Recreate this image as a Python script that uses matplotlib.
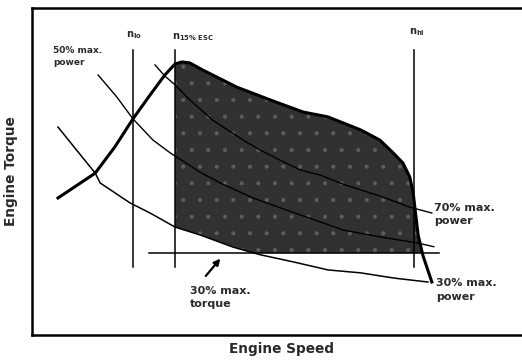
import numpy as np
import matplotlib
matplotlib.use("Agg")
import matplotlib.pyplot as plt

# engine speed / torque in relative units (0..100)
full_load_speed = [5.3, 10.2, 12.9, 16.9, 20.6, 24.1, 27.1, 29.2, 30.6, 32.2, 34.9, 41.8,
                   48.6, 55.3, 60.4, 67.1, 71.0, 73.7, 75.7, 77.1, 77.8, 78.2, 78.8, 79.8, 81.6]
full_load_torque = [41.9, 46.8, 49.5, 57.5, 66.1, 73.4, 79.5, 82.9, 83.5, 83.2, 81.0, 75.8,
                    71.9, 68.2, 66.7, 62.7, 59.6, 55.7, 52.6, 48.3, 43.4, 38.2, 30.6, 24.2, 16.2]

p70_speed = [25.1, 27.1, 29.2, 32.2, 36.9, 43.1, 46.5, 50.6, 54.7, 58.8, 63.9, 71.0, 77.1, 81.6]
p70_torque = [82.6, 79.2, 76.5, 71.9, 65.7, 59.6, 56.6, 53.5, 50.5, 48.9, 45.9, 42.5, 39.1, 37.3]

p50_speed = [13.5, 17.3, 20.6, 24.7, 28.2, 34.3, 38.4, 45.1, 52.0, 58.8, 63.5, 71.0, 78.8, 82.0]
p50_torque = [79.5, 72.8, 66.1, 59.6, 55.7, 49.8, 46.5, 41.9, 38.2, 34.6, 32.1, 30.0, 28.1, 27.0]

p30_speed = [5.3, 12.9, 13.9, 20.0, 24.1, 29.2, 34.3, 41.0, 44.5, 46.7, 53.5, 60.4, 67.1, 73.9, 80.8]
p30_torque = [63.6, 49.5, 46.5, 40.4, 37.3, 33.0, 30.6, 26.9, 25.4, 24.5, 22.3, 19.9, 19.0, 17.4, 16.2]

n_lo, n_15, n_hi = 20.6, 29.2, 78.0
n_line_range = (20.8, 87.2)
torque_line_range = (23.9, 83.1)
torque_30 = 0.3 * max(full_load_torque)

plt.rcParams['font.family'] = ['DejaVu Sans']
plt.rcParams['mathtext.fontset'] = 'dejavusans'
txt = '#2a2a2a'

fig = plt.figure(figsize=(5.22, 3.6), dpi=100)
ax = fig.add_axes([32 / 522, 25 / 360, 490 / 522, 327 / 360])
ax.set_xlim(0, 100)
ax.set_ylim(0, 100)

# control area
xs = np.linspace(n_15, full_load_speed[-1], 800)
upper = np.interp(xs, full_load_speed, full_load_torque)
lower = np.maximum(np.interp(xs, p30_speed, p30_torque), torque_30)
plt.rcParams['hatch.color'] = '#5e5e5e'
plt.rcParams['hatch.linewidth'] = 0.5
ax.fill_between(xs, lower, upper, where=upper >= lower, interpolate=True,
                facecolor='#313131', edgecolor='none', hatch='.', zorder=1)

ax.plot(full_load_speed, full_load_torque, color='black', lw=2.2, zorder=3)
ax.plot(p70_speed, p70_torque, color='black', lw=1.0, zorder=2)
ax.plot(p50_speed, p50_torque, color='black', lw=1.0, zorder=2)
ax.plot(p30_speed, p30_torque, color='black', lw=1.1, zorder=2)

for n in (n_lo, n_15, n_hi):
    ax.plot([n, n], n_line_range, color='black', lw=1.1, zorder=2)
ax.plot(torque_line_range, [torque_30, torque_30], color='black', lw=1.1, zorder=2)

ax.text(n_lo - 1.4, 91.7, r'$\mathbf{n_{lo}}$', fontsize=7, color=txt, ha='left', va='center')
ax.text(n_15 - 0.7, 91.2, r'$\mathbf{n_{15\%\ ESC}}$', fontsize=7, color=txt, ha='left', va='center')
ax.text(n_hi - 1.0, 92.7, r'$\mathbf{n_{hi}}$', fontsize=7, color=txt, ha='left', va='center')

ax.text(4.3, 88.5, '50% max.\npower', fontsize=6.5, fontweight='bold', color=txt,
        ha='left', va='top', linespacing=1.55)
ax.text(82.0, 40.5, '70% max.\npower', fontsize=8, fontweight='bold', color=txt,
        ha='left', va='top', linespacing=1.45)
ax.text(82.4, 17.4, '30% max.\npower', fontsize=8, fontweight='bold', color=txt,
        ha='left', va='top', linespacing=1.45)
ax.text(32.2, 15.0, '30% max.\ntorque', fontsize=8, fontweight='bold', color=txt,
        ha='left', va='top', linespacing=1.4)
ax.annotate('', xy=(38.8, 24.0), xytext=(35.1, 17.4),
            arrowprops=dict(arrowstyle='-|>', lw=1.6, color='black', mutation_scale=9))

ax.set_xticks([])
ax.set_yticks([])
ax.spines['right'].set_visible(False)
for s in ('left', 'top', 'bottom'):
    ax.spines[s].set_linewidth(1.8)
ax.set_xlabel('Engine Speed', fontsize=9.8, fontweight='bold', color=txt)
ax.set_ylabel('Engine Torque', fontsize=9.8, fontweight='bold', color=txt)
ax.xaxis.set_label_coords(0.51, -0.02)
ax.yaxis.set_label_coords(-0.029, 0.5)

fig.savefig('out.png', dpi=100)
